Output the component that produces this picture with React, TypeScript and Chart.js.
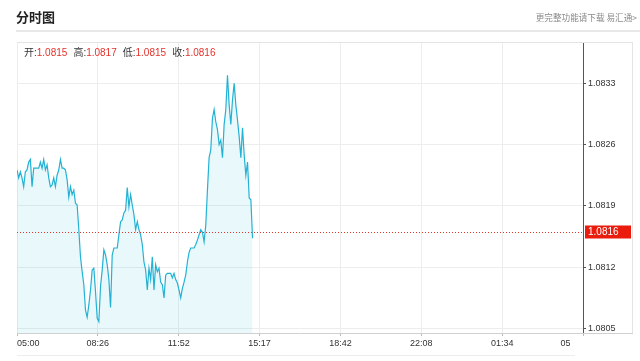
import React, { useEffect, useRef } from "react";
import { Chart, registerables } from "chart.js";

Chart.register(...registerables);

// ---- data ----
const TIME_LABELS = ["05:00", "08:26", "11:52", "15:17", "18:42", "22:08", "01:34", "05:00"];
const SESSION_MINUTES = 1440;
const SAMPLE_STEP_MIN = 4.25;
const PRICES = [
  1.08231, 1.08222, 1.08229, 1.08222, 1.08212, 1.08229, 1.08231, 1.0824, 1.08243, 1.08212,
  1.08233, 1.08233, 1.08233, 1.08233, 1.0824, 1.08233, 1.08243, 1.08231, 1.08237, 1.08222,
  1.08212, 1.08214, 1.08222, 1.08212, 1.08225, 1.08231, 1.08243, 1.08233, 1.08233, 1.08231,
  1.0822, 1.082, 1.08212, 1.08203, 1.08208, 1.08193, 1.08191, 1.08163, 1.08132, 1.08115,
  1.081, 1.08071, 1.08063, 1.08077, 1.08094, 1.08117, 1.08119, 1.08092, 1.08062, 1.08058,
  1.08098, 1.08117, 1.0814, 1.08134, 1.08123, 1.08106, 1.08074, 1.08134, 1.08142, 1.08142,
  1.08142, 1.08157, 1.08172, 1.08174, 1.08182, 1.08185, 1.08211, 1.08189, 1.08203, 1.08191,
  1.0818, 1.08163, 1.08172, 1.08163, 1.08157, 1.08146, 1.08126, 1.08117, 1.08094, 1.08119,
  1.08106, 1.08132, 1.08094, 1.08123, 1.08115, 1.08119, 1.08103, 1.081, 1.08085, 1.08111,
  1.08113, 1.08113, 1.08113, 1.08108, 1.08113, 1.08106, 1.08102, 1.08094, 1.08085, 1.08096,
  1.08103, 1.08111, 1.08126, 1.08137, 1.08142, 1.08142, 1.08142, 1.08146, 1.08151, 1.08157,
  1.08163, 1.0816, 1.08149, 1.08168, 1.08208, 1.08245, 1.08254, 1.0829, 1.083, 1.08286,
  1.08277, 1.0826, 1.08265, 1.08245, 1.08283, 1.083, 1.08339, 1.08305, 1.08283, 1.08311,
  1.0833, 1.08305, 1.08288, 1.08269, 1.08245, 1.08279, 1.08248, 1.08225, 1.0824, 1.08199,
  1.08197, 1.08153,
];
const Y_TICKS = [1.0805, 1.0812, 1.0819, 1.0826, 1.0833];
const Y_MIN = 1.08045;
const Y_MAX = 1.08377;
const LAST_CLOSE = 1.0816;
const OHLC_LABELS = ["开", "高", "低", "收"];
const OHLC_VALUES = ["1.0815", "1.0817", "1.0815", "1.0816"];

const TICK_FONT = { family: "'Liberation Sans', 'DejaVu Sans', sans-serif", size: 9 };

const decorPlugin = {
  id: "decor",
  afterDraw(chart: any) {
    const { ctx, chartArea: a, scales } = chart;
    const y = scales.y;
    ctx.save();
    // the right panel hides the end of the last time label
    ctx.fillStyle = "#ffffff";
    ctx.fillRect(570, a.bottom + 4, 70, 30);
    // faint bottom line
    ctx.strokeStyle = "#ececec";
    ctx.lineWidth = 1;
    ctx.beginPath();
    ctx.moveTo(a.left, 355.5);
    ctx.lineTo(a.right - 8, 355.5);
    ctx.stroke();
    // box borders
    ctx.strokeStyle = "#e4e4e4";
    ctx.beginPath();
    ctx.moveTo(a.left, a.top + 0.5);
    ctx.lineTo(632, a.top + 0.5);
    ctx.moveTo(632.5, a.top);
    ctx.lineTo(632.5, a.bottom + 1);
    ctx.stroke();
    ctx.strokeStyle = "#d0d0d0";
    ctx.beginPath();
    ctx.moveTo(a.right, a.bottom + 0.5);
    ctx.lineTo(633, a.bottom + 0.5);
    ctx.stroke();
    // last close dotted line
    const py = Math.round(y.getPixelForValue(LAST_CLOSE)) + 0.5;
    ctx.strokeStyle = "#e5322b";
    ctx.setLineDash([1, 2]);
    ctx.beginPath();
    ctx.moveTo(a.left, py);
    ctx.lineTo(a.right, py);
    ctx.stroke();
    ctx.setLineDash([]);
    // label box
    ctx.fillStyle = "#ea1c0d";
    ctx.fillRect(a.right + 2, py - 7, 46, 13);
    ctx.fillStyle = "#ffffff";
    ctx.font = "10px 'Liberation Sans', sans-serif";
    ctx.textBaseline = "middle";
    ctx.textAlign = "left";
    ctx.fillText(LAST_CLOSE.toFixed(4), a.right + 5, py);
    ctx.restore();
  },
};

function PriceChart() {
  const ref = useRef<HTMLCanvasElement | null>(null);
  useEffect(() => {
    if (!ref.current) return;
    const chart = new Chart(ref.current, {
      type: "line",
      data: {
        datasets: [
          {
            data: PRICES.map((v, i) => ({ x: i * SAMPLE_STEP_MIN, y: v })),
            borderColor: "#24b2d4",
            borderWidth: 1.2,
            backgroundColor: "rgba(41,182,216,0.1)",
            fill: "start",
            pointRadius: 0,
            tension: 0,
          },
        ],
      },
      options: {
        animation: false,
        responsive: false,
        maintainAspectRatio: false,
        layout: { padding: { left: 17, top: 42, right: 8, bottom: 6 } },
        plugins: { legend: { display: false }, tooltip: { enabled: false } },
        scales: {
          x: {
            type: "linear",
            min: 0,
            max: SESSION_MINUTES,
            afterBuildTicks: (s: any) => {
              s.ticks = TIME_LABELS.map((_, i) => ({ value: (i * SESSION_MINUTES) / (TIME_LABELS.length - 1) }));
            },
            afterFit: (s: any) => {
              s.height = 22;
            },
            ticks: {
              autoSkip: false,
              maxRotation: 0,
              align: "inner",
              padding: 2,
              color: "#333",
              font: TICK_FONT,
              callback: (_v: any, i: number) => TIME_LABELS[i],
            },
            grid: { color: "#ededed", tickColor: "#bbbbbb", tickLength: 3, lineWidth: 1 },
            border: { color: "#d0d0d0" },
          },
          y: {
            position: "right",
            min: Y_MIN,
            max: Y_MAX,
            afterBuildTicks: (s: any) => {
              s.ticks = Y_TICKS.map((v) => ({ value: v }));
            },
            afterFit: (s: any) => {
              s.width = 49;
            },
            ticks: {
              padding: 2,
              color: "#333",
              font: TICK_FONT,
              callback: (v: any) => Number(v).toFixed(4),
            },
            grid: { color: "#ededed", tickColor: "#555", tickLength: 3, lineWidth: 1 },
            border: { color: "#555", width: 1 },
          },
        },
      },
      plugins: [decorPlugin],
    });
    return () => chart.destroy();
  }, []);
  return <canvas ref={ref} width={640} height={361} style={{ position: "absolute", left: 0, top: 0 }} />;
}

export default function App() {
  const cjk = "'Liberation Sans', 'Noto Sans CJK SC', sans-serif";
  return (
    <div style={{ position: "fixed", left: 0, top: 0, width: 640, height: 361, background: "#fff", overflow: "hidden" }}>
      <PriceChart />
      <div
        style={{
          position: "absolute",
          left: 16,
          top: 8,
          fontFamily: "'Noto Sans CJK SC', sans-serif",
          fontWeight: 700,
          fontSize: 13,
          color: "#222",
          lineHeight: "18px",
        }}
      >
        分时图
      </div>
      <div
        style={{
          position: "absolute",
          right: 3,
          top: 10,
          fontFamily: "'Noto Sans CJK SC', sans-serif",
          fontSize: 8.6,
          color: "#8a8a8a",
          lineHeight: "14px",
          whiteSpace: "nowrap",
        }}
      >
        更完整功能请下载 易汇通&gt;
      </div>
      <div style={{ position: "absolute", left: 16, top: 30, width: 624, height: 2, background: "#e8e8e8" }} />
      <div
        style={{
          position: "absolute",
          left: 24,
          top: 46,
          fontFamily: cjk,
          fontSize: 10,
          lineHeight: "14px",
          whiteSpace: "nowrap",
          display: "flex",
          gap: 6,
        }}
      >
        {OHLC_LABELS.map((l, i) => (
          <span key={l}>
            <span style={{ color: "#333" }}>{l}:</span>
            <span style={{ color: "#e5322b" }}>{OHLC_VALUES[i]}</span>
          </span>
        ))}
      </div>
    </div>
  );
}
